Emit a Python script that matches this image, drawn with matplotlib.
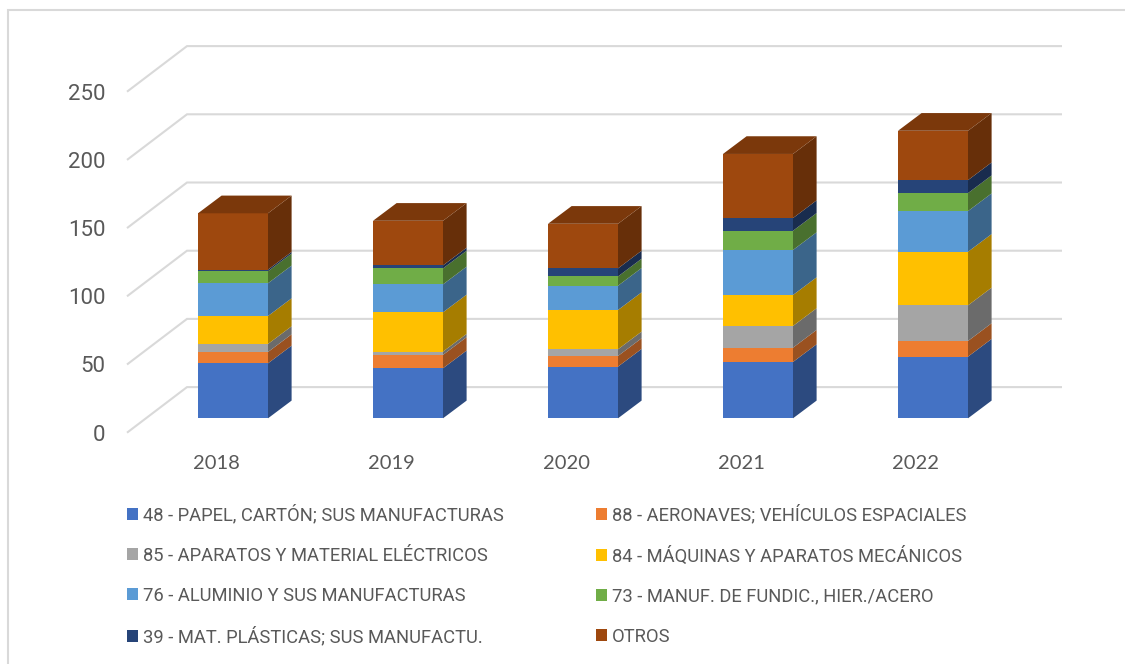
import matplotlib
matplotlib.use("Agg")
import matplotlib.pyplot as plt
from matplotlib.lines import Line2D
from matplotlib.patches import Patch
import colorsys
from matplotlib.colors import to_rgb

years = ["2018", "2019", "2020", "2021", "2022"]
y_ticks = [0, 50, 100, 150, 200, 250]
labels = ["48 - PAPEL, CARTÓN; SUS MANUFACTURAS",
          "88 - AERONAVES; VEHÍCULOS ESPACIALES",
          "85 - APARATOS Y MATERIAL ELÉCTRICOS",
          "84 - MÁQUINAS Y APARATOS MECÁNICOS",
          "76 - ALUMINIO Y SUS MANUFACTURAS",
          "73 - MANUF. DE FUNDIC., HIER./ACERO",
          "39 - MAT. PLÁSTICAS; SUS MANUFACTU.",
          "OTROS"]
papel = [40.3, 36.7, 37.9, 41.3, 45.2]
aeronaves = [8.3, 9.8, 7.8, 10.5, 11.5]
electricos = [5.9, 2.4, 4.9, 15.9, 26.1]
mecanicos = [20.5, 28.8, 28.8, 22.7, 39.3]
aluminio = [24.0, 20.5, 17.8, 33.0, 29.8]
fundicion = [8.8, 11.7, 6.8, 14.1, 13.2]
plasticas = [1.2, 2.2, 5.9, 9.3, 9.5]
otros = [41.3, 32.7, 32.7, 47.0, 36.2]
series = [papel, aeronaves, electricos, mecanicos, aluminio, fundicion, plasticas, otros]
colors = ["#4472C4", "#ED7D31", "#A5A5A5", "#FFC000", "#5B9BD5", "#70AD47", "#264478", "#9E480E"]

W, H = 1125, 664
PX_Y = 1.364            # pixels per value unit
PX_X = 175.0            # pixels per category
L, R, B, T = 127, 1062, 433, 40   # plot box in pixels
TXT = "#595959"
GRID = "#D9D9D9"

fig = plt.figure(figsize=(W / 100, H / 100), dpi=100, facecolor="white")
rect = [L / W, 1 - B / H, (R - L) / W, (B - T) / H]


def limits(x0_px, y0_px):
    """Axis limits such that category 0 / value 0 fall on this pixel."""
    return ((L - x0_px) / PX_X, (R - x0_px) / PX_X,
            (y0_px - B) / PX_Y, (y0_px - T) / PX_Y)


# front plane: carries the axes labels and the start of the gridlines
front = fig.add_axes(rect, zorder=1)
x0, x1, y0, y1 = limits(216, 432.7)
front.set_xlim(x0, x1)
front.set_ylim(y0, y1)
front.patch.set_visible(False)
for s in front.spines.values():
    s.set_visible(False)
front.set_xticks(range(len(years)), years, fontfamily="Lato", fontsize=14.5, color=TXT)
front.set_yticks(y_ticks, [str(v) for v in y_ticks], fontfamily="Roboto", fontsize=16, color=TXT)
front.tick_params(axis="x", length=0, pad=15.5)
front.tick_params(axis="y", length=0, pad=15.5)

# floor depth
ddx = 60 / PX_X
ddy = 45.6 / PX_Y
for v in y_ticks:
    front.plot([x0, x0 + ddx, x1], [v, v + ddy, v + ddy], color=GRID, lw=1.5,
               solid_joinstyle="miter", solid_capstyle="butt", clip_on=False)

# bar plane
ax = fig.add_axes(rect, zorder=2)
x0, x1, y0, y1 = limits(233, 418.3)
ax.set_xlim(x0, x1)
ax.set_ylim(y0, y1)
ax.axis("off")

WIDTH = 70 / PX_X
DX = 23.6 / PX_X
DY = 17.7 / PX_Y


def shade(c, f):
    r, g, b = to_rgb(c)
    return (r * f, g * f, b * f)


bottoms = [0.0] * len(years)
for vals, col in zip(series, colors):
    ax.bar(range(len(years)), vals, WIDTH, bottom=bottoms, color=col, zorder=3, linewidth=0)
    for i, v in enumerate(vals):
        b = bottoms[i]
        xr = i + WIDTH / 2
        ax.fill([xr, xr + DX, xr + DX, xr], [b, b + DY, b + v + DY, b + v],
                color=shade(col, 0.65), lw=0, zorder=3)
    bottoms = [b + v for b, v in zip(bottoms, vals)]
for i, top in enumerate(bottoms):
    xl, xr = i - WIDTH / 2, i + WIDTH / 2
    ax.fill([xl, xr, xr + DX, xl + DX], [top, top, top + DY, top + DY],
            color=shade(colors[-1], 0.78), lw=0, zorder=3)

# legend (filled column by column, reads row by row)
order = [0, 2, 4, 6, 1, 3, 5, 7]
handles = [Patch(facecolor=colors[k], edgecolor="none", label=labels[k]) for k in order]
FS = 13.2
px_per_em = FS * 100 / 72
leg = fig.legend(handles=handles, ncols=2, loc="upper left",
                 bbox_to_anchor=(127 / W, 1 - 505 / H), bbox_transform=fig.transFigure,
                 frameon=False, borderaxespad=0, borderpad=0,
                 prop={"family": "Roboto", "size": FS},
                 labelcolor=TXT, handlelength=11 / px_per_em, handleheight=11 / px_per_em,
                 handletextpad=5 / px_per_em, labelspacing=1.2, columnspacing=5)

# chart frame (its right and bottom edges lie outside the picture)
fig.add_artist(Line2D([8 / W, 8 / W, 1], [0, 1 - 10 / H, 1 - 10 / H], color=GRID, lw=1.5,
                      transform=fig.transFigure, solid_joinstyle="miter"))

fig.savefig("out.png", dpi=100, facecolor="white")
